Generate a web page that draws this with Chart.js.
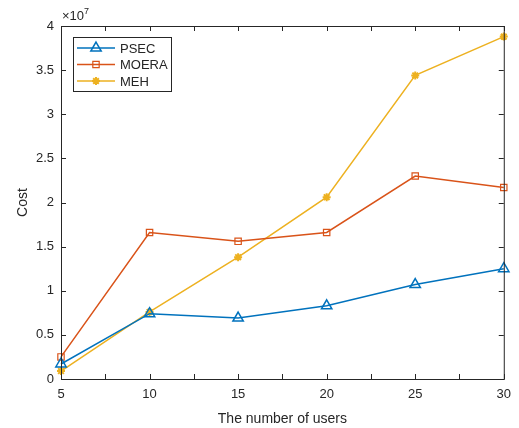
<!DOCTYPE html>
<html>
<head>
<meta charset="utf-8">
<script src="https://cdn.jsdelivr.net/npm/chart.js@4/dist/chart.umd.min.js"></script>
<style>
	html, body { margin: 0; padding: 0; background: #fff; }
	#wrap { width: 519px; height: 428px; }
</style>
</head>
<body>
<div id="wrap"><canvas id="costChart" width="519" height="428"></canvas></div>
<script>
// datos (coste en unidades de 1e7)
const users = [5, 10, 15, 20, 25, 30];
const psec = [0.17, 0.74, 0.69, 0.83, 1.07, 1.25];
const moera = [0.25, 1.66, 1.56, 1.66, 2.30, 2.17];
const meh = [0.09, 0.76, 1.38, 2.06, 3.44, 3.88];
const seriesNames = ['PSEC', 'MOERA', 'MEH'];
const yTicks = [0, 0.5, 1, 1.5, 2, 2.5, 3, 3.5, 4];

const FONT = "'Liberation Sans', Arial, sans-serif";
const TXT = '#262626';

const toPoints = (arr) => users.map((u, i) => ({ x: u, y: arr[i] }));

// caja, ticks hacia dentro, leyenda y el x10^7
const matlabBox = {
	id: 'matlabBox',
	afterDraw(chart) {
		const ctx = chart.ctx;
		const a = chart.chartArea;
		const xs = chart.scales.x;
		const ys = chart.scales.y;
		ctx.save();
		ctx.strokeStyle = TXT;
		ctx.lineWidth = 1;
		ctx.strokeRect(a.left + 0.5, a.top + 0.5, a.right - a.left, a.bottom - a.top);
		ctx.beginPath();
		xs.ticks.forEach(t => {
			const px = Math.round(xs.getPixelForValue(t.value)) + 0.5;
			ctx.moveTo(px, a.bottom); ctx.lineTo(px, a.bottom - 5);
			ctx.moveTo(px, a.top); ctx.lineTo(px, a.top + 5);
		});
		ys.ticks.forEach(t => {
			const py = Math.round(ys.getPixelForValue(t.value)) + 0.5;
			ctx.moveTo(a.left, py); ctx.lineTo(a.left + 5, py);
			ctx.moveTo(a.right, py); ctx.lineTo(a.right - 5, py);
		});
		ctx.stroke();

		// exponente
		ctx.fillStyle = TXT;
		ctx.textBaseline = 'alphabetic';
		ctx.textAlign = 'left';
		ctx.font = '13px ' + FONT;
		ctx.fillText('\u00d710', a.left + 1, a.top - 6);
		const w = ctx.measureText('\u00d710').width;
		ctx.font = '9px ' + FONT;
		ctx.fillText('7', a.left + 1 + w, a.top - 12);

		// leyenda
		const lx = 73, ly = 37, lw = 98, lh = 54;
		ctx.fillStyle = '#fff';
		ctx.fillRect(lx, ly, lw, lh);
		ctx.strokeStyle = TXT;
		ctx.lineWidth = 1;
		ctx.strokeRect(lx + 0.5, ly + 0.5, lw, lh);
		chart.data.datasets.forEach((ds, i) => {
			const cy = ly + 11 + i * 16.5;
			ctx.strokeStyle = ds.borderColor;
			ctx.lineWidth = 1.5;
			ctx.beginPath();
			ctx.moveTo(lx + 4, cy); ctx.lineTo(lx + 42, cy);
			ctx.stroke();
			ctx.strokeStyle = ds.pointBorderColor;
			ctx.fillStyle = ds.pointBackgroundColor;
			ctx.lineWidth = ds.pointBorderWidth;
			Chart.helpers.drawPoint(ctx, {
				pointStyle: ds.pointStyle,
				radius: ds.pointRadius,
				borderWidth: ds.pointBorderWidth,
				rotation: 0
			}, lx + 23, cy);
			ctx.fillStyle = TXT;
			ctx.font = '13px ' + FONT;
			ctx.textBaseline = 'middle';
			ctx.fillText(ds.label, lx + 47, cy + 1);
		});
		ctx.restore();
	}
};

const colors = ['#0072BD', '#D95319', '#EDB120'];

new Chart(document.getElementById('costChart'), {
	type: 'line',
	data: {
		datasets: [
			{
				label: seriesNames[0], data: toPoints(psec),
				borderColor: colors[0], backgroundColor: 'transparent',
				pointStyle: 'triangle', pointRadius: 6, pointBorderWidth: 1.5,
				pointBorderColor: colors[0], pointBackgroundColor: 'rgba(255,255,255,0)',
				borderWidth: 1.5, tension: 0
			},
			{
				label: seriesNames[1], data: toPoints(moera),
				borderColor: colors[1], backgroundColor: 'transparent',
				pointStyle: 'rect', pointRadius: 4.5, pointBorderWidth: 1.2,
				pointBorderColor: colors[1], pointBackgroundColor: 'rgba(255,255,255,0)',
				borderWidth: 1.5, tension: 0
			},
			{
				label: seriesNames[2], data: toPoints(meh),
				borderColor: colors[2], backgroundColor: 'transparent',
				pointStyle: 'star', pointRadius: 4, pointBorderWidth: 2,
				pointBorderColor: colors[2], pointBackgroundColor: colors[2],
				borderWidth: 1.5, tension: 0
			}
		]
	},
	options: {
		responsive: false,
		animation: false,
		clip: false,
		layout: { padding: { top: 26, right: 12, left: 0, bottom: 0 } },
		plugins: { legend: { display: false }, tooltip: { enabled: false } },
		scales: {
			x: {
				type: 'linear', min: 5, max: 30,
				afterBuildTicks: (s) => { s.ticks = users.flatMap(u => u < 30 ? [{ value: u }, { value: u + 2.5 }] : [{ value: u }]); },
				ticks: {
					callback: (v) => (v % 5 === 0 ? v : ''),
					color: TXT, font: { family: FONT, size: 13 }, padding: 8, maxRotation: 0, autoSkip: false
				},
				grid: { display: false, drawTicks: false },
				border: { display: false },
				title: { display: true, text: 'The number of users', color: TXT, font: { family: FONT, size: 14 }, padding: { top: 4, bottom: 0 } },
				afterFit: (s) => { s.height = 49; }
			},
			y: {
				min: 0, max: 4,
				afterBuildTicks: (s) => { s.ticks = yTicks.map(v => ({ value: v })); },
				ticks: {
					callback: (v) => v,
					color: TXT, font: { family: FONT, size: 13 }, padding: 7
				},
				grid: { display: false, drawTicks: false },
				border: { display: false },
				title: { display: true, text: 'Cost', color: TXT, font: { family: FONT, size: 14 }, padding: { top: 15, bottom: 4 } },
				afterFit: (s) => { s.width = 61; }
			}
		}
	},
	plugins: [matlabBox]
});
</script>
</body>
</html>
